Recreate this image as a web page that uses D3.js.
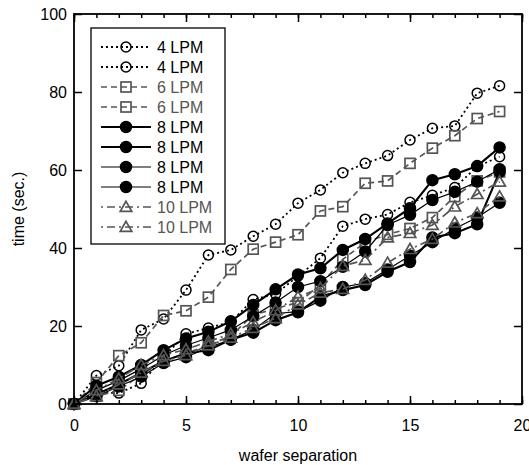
<!DOCTYPE html>
<html>
<head>
<meta charset="utf-8">
<script src="https://cdn.jsdelivr.net/npm/d3@7"></script>
<style>
  body { margin: 0; background: #fff; }
  svg { font-family: "Liberation Sans", Arial, sans-serif; }
</style>
</head>
<body>
<svg id="chart" width="529" height="465"></svg>
<script>
// wafer separation (x) and measured times (y, sec.)
const separation = [0, 1, 2, 3, 4, 5, 6, 7, 8, 9, 10, 11, 12, 13, 14, 15, 16, 17, 18, 19];
const lpm4a = [0, 7.3, 9.8, 19, 21.8, 29.2, 38.2, 39.5, 43, 46.1, 51.5, 54.9, 59.3, 61.7, 63.7, 67.7, 70.7, 71.3, 79.7, 81.6];
const lpm4b = [0, 3, 2.8, 5.3, 12, 18, 19.5, 21, 26.8, 28.2, 32.8, 37.4, 45.6, 47.4, 48.6, 51.7, 53.5, 55.5, 60.9, 63.4];
const lpm6a = [0, 5.5, 12.4, 15.7, 22.7, 23.9, 27.4, 34.5, 39.7, 41.5, 43.4, 49.5, 50.6, 56.6, 57.2, 61.7, 65.6, 68.8, 73.2, 75];
const lpm6b = [0, 2, 3.5, 7.5, 11, 13, 15, 17.5, 22.8, 24.5, 26, 30.5, 37.1, 41.4, 43.5, 45, 47.8, 53.2, 57.2, 59.5];
const lpm8a = [0, 4.7, 7, 10, 13.8, 16.8, 18.5, 21.2, 25.4, 29.4, 33.2, 34.8, 39.5, 42.3, 46.3, 50.2, 57.4, 58.9, 61, 65.8];
const lpm8b = [0, 2.5, 5, 8, 11, 13, 13.8, 16.5, 18.3, 21.5, 23.5, 27.5, 29.2, 30.5, 33.9, 36.4, 42.7, 43.8, 46.1, 59.5];
const lpm8c = [0, 3.5, 6, 9, 12.5, 15, 17, 19, 22.5, 26, 30, 31.5, 35.2, 39.1, 45.9, 48.5, 52.3, 54.4, 57, 60.2];
const lpm8d = [0, 2, 4.5, 7, 10.5, 12, 14.5, 16.5, 19, 23.2, 23.7, 26.5, 30, 31, 34.5, 38, 41.5, 45, 47.8, 51.6];
const lpm10a = [0, 3.5, 6.5, 10, 12.5, 14, 16, 18, 21, 24, 27.5, 29.7, 35.4, 36.9, 42.7, 43.8, 45.9, 50.6, 53.8, 57];
const lpm10b = [0, 2, 5, 8, 11, 12.5, 15, 17, 19.5, 22, 25.5, 28.5, 29.5, 31.8, 36.2, 39.7, 42.3, 46.5, 48.9, 53.2];
const labels = ['4 LPM', '4 LPM', '6 LPM', '6 LPM', '8 LPM', '8 LPM', '8 LPM', '8 LPM', '10 LPM', '10 LPM'];
const xTicks = [0, 5, 10, 15, 20];
const yTicks = [0, 20, 40, 60, 80, 100];

const GRAY = '#555';
const STYLE = {
  lpm4: { color: '#000', dash: '2,3', width: 1.8, marker: 'circle', fill: 'none' },
  lpm6: { color: GRAY, dash: '6,4', width: 1.7, marker: 'square', fill: 'none' },
  lpm8thick: { color: '#000', dash: null, width: 2.1, marker: 'circle', fill: '#000' },
  lpm8thin: { color: '#000', dash: null, width: 1.2, marker: 'circle', fill: '#000' },
  lpm10: { color: GRAY, dash: '2,4,8,4', width: 1.7, marker: 'triangle', fill: 'none' }
};

const series = [
  { values: lpm4a, style: STYLE.lpm4 },
  { values: lpm4b, style: STYLE.lpm4 },
  { values: lpm6a, style: STYLE.lpm6 },
  { values: lpm6b, style: STYLE.lpm6 },
  { values: lpm8a, style: STYLE.lpm8thick },
  { values: lpm8b, style: STYLE.lpm8thick },
  { values: lpm8c, style: STYLE.lpm8thin },
  { values: lpm8d, style: STYLE.lpm8thin },
  { values: lpm10a, style: STYLE.lpm10 },
  { values: lpm10b, style: STYLE.lpm10 }
].map((s, i) => ({ ...s, label: labels[i] }));

const svg = d3.select('#chart');
const x = d3.scaleLinear().domain([0, 20]).range([74, 522]);
const y = d3.scaleLinear().domain([0, 100]).range([404, 14]);

function drawMarker(sel, style) {
  if (style.marker === 'circle') {
    sel.append('circle')
      .attr('r', style.fill === 'none' ? 5 : 5.5)
      .attr('fill', style.fill)
      .attr('stroke', style.color)
      .attr('stroke-width', 1.5);
  } else if (style.marker === 'square') {
    sel.append('rect')
      .attr('x', -5).attr('y', -5)
      .attr('width', 10).attr('height', 10)
      .attr('fill', 'none')
      .attr('stroke', style.color)
      .attr('stroke-width', 1.7);
  } else {
    sel.append('path')
      .attr('d', d3.symbol(d3.symbolTriangle, 58)())
      .attr('transform', 'translate(0,1)')
      .attr('fill', 'none')
      .attr('stroke', style.color)
      .attr('stroke-width', 1.7);
  }
}

// Data
const line = d3.line().x((d, i) => x(separation[i])).y(d => y(d));
const plot = svg.append('g').attr('class', 'plot');
series.forEach(s => {
  const g = plot.append('g');
  g.append('path')
    .attr('d', line(s.values))
    .attr('fill', 'none')
    .attr('stroke', s.style.color)
    .attr('stroke-width', s.style.width)
    .attr('stroke-dasharray', s.style.dash);
  g.selectAll('g.pt')
    .data(s.values)
    .enter()
    .append('g')
    .attr('class', 'pt')
    .attr('transform', (d, i) => `translate(${x(separation[i])},${y(d)})`)
    .each(function () { drawMarker(d3.select(this), s.style); });
});

// Axes (ticks point inward, mirrored top and right)
const axes = svg.append('g').attr('class', 'axes');
const minorX = d3.range(0, 21);
axes.append('g')
  .attr('transform', `translate(0,${y(0)})`)
  .call(d3.axisBottom(x).tickValues(minorX).tickSize(-4).tickFormat(''));
axes.append('g')
  .attr('transform', `translate(0,${y(0)})`)
  .call(d3.axisBottom(x).tickValues(xTicks).tickSize(-8).tickPadding(16));
axes.append('g')
  .attr('transform', `translate(0,${y(100)})`)
  .call(d3.axisTop(x).tickValues(minorX).tickSize(-4).tickFormat(''));
axes.append('g')
  .attr('transform', `translate(0,${y(100)})`)
  .call(d3.axisTop(x).tickValues(xTicks).tickSize(-8).tickFormat(''));
axes.append('g')
  .attr('transform', `translate(${x(0)},0)`)
  .call(d3.axisLeft(y).tickValues(yTicks).tickSize(-8).tickPadding(7));
axes.append('g')
  .attr('transform', `translate(${x(20)},0)`)
  .call(d3.axisRight(y).tickValues(yTicks).tickSize(-8).tickFormat(''));

axes.selectAll('.domain').remove();
axes.selectAll('line').attr('stroke', '#000').attr('stroke-width', 1.5);
axes.selectAll('text').attr('font-size', 16).attr('fill', '#000')
  .attr('font-family', '"Liberation Sans", Arial, sans-serif');

svg.append('rect')
  .attr('x', x(0)).attr('y', y(100))
  .attr('width', x(20) - x(0)).attr('height', y(0) - y(100))
  .attr('fill', 'none').attr('stroke', '#000').attr('stroke-width', 1.8);

svg.append('text')
  .attr('x', x(10)).attr('y', 461)
  .attr('text-anchor', 'middle')
  .attr('font-size', 16)
  .text('wafer separation');
svg.append('text')
  .attr('transform', `translate(24,${y(50)}) rotate(-90)`)
  .attr('text-anchor', 'middle')
  .attr('font-size', 16)
  .text('time (sec.)');

// Legend
const legend = svg.append('g').attr('class', 'legend');
legend.append('rect')
  .attr('x', 91).attr('y', 28)
  .attr('width', 134).attr('height', 216)
  .attr('fill', '#fff').attr('stroke', '#000').attr('stroke-width', 1.3);
series.forEach((s, i) => {
  const ly = 47 + i * 20;
  const item = legend.append('g').attr('transform', `translate(0,${ly})`);
  item.append('line')
    .attr('x1', 101).attr('x2', 151)
    .attr('stroke', s.style.color)
    .attr('stroke-width', s.style.width)
    .attr('stroke-dasharray', s.style.dash);
  const m = item.append('g').attr('transform', 'translate(126,0)');
  drawMarker(m, s.style);
  item.append('text')
    .attr('x', 157).attr('y', 6)
    .attr('font-size', 16)
    .attr('fill', s.style.color)
    .text(s.label);
});
</script>
</body>
</html>
